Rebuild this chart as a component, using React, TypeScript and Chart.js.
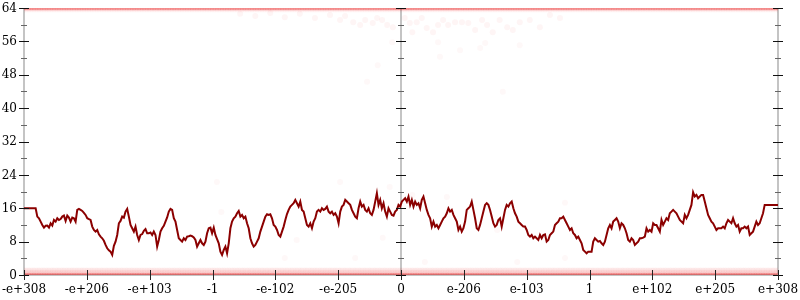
import { useEffect, useRef } from "react";
import { Chart, registerables } from "chart.js";

Chart.register(...registerables);

// x axis: 13 evenly spaced positions (-6 .. 6) labelled with magnitudes
const xTickLabels = [
  "-e+308", "-e+206", "-e+103", "-1", "-e-102", "-e-205", "0",
  "e-206", "e-103", "1", "e+102", "e+205", "e+308",
];
const yTickValues = [0, 8, 16, 24, 32, 40, 48, 56, 64];

// moving average of bit count, sampled evenly from left to right
const avgBits = [
  // segment 1 (-6 .. -3)
  16, 16, 16, 16, 16, 16, 16, 16, 14.0, 13.6, 12.8, 12.0, 11.36, 11.8, 11.84, 11.36, 12.4, 11.84, 13.2, 12.8,
  13.6, 13.2, 13.4, 14.0, 14.24, 12.96, 14.24, 13.76, 12.8, 13.76, 13.6, 12.8, 15.6, 15.84, 15.6, 15.36, 14.9, 14.4, 13.6, 13.4,
  13.2, 11.6, 10.8, 10.4, 10.8, 9.76, 9.2, 8.8, 8.2, 7.2, 6.4, 5.9, 5.6, 4.8, 7.0, 8.0, 9.6, 12.4, 12.96, 14.0,
  13.76, 15.2, 15.84, 14.0, 12.0, 11.2, 10.4, 11.6, 9.6, 8.4, 9.6, 9.8, 10.6, 11.0, 10.0, 10.0, 10.2, 9.6, 10.4, 9.6,
  6.8, 8.4, 10.4, 11.2, 11.8, 12.8, 13.8, 15.2, 15.84, 15.6, 13.6, 12.8, 10.8, 8.8, 8.4, 8.0, 8.8, 8.4, 9.2, 9.3,
  9.44, 9.3, 9.0, 8.4, 6.8, 7.6, 8.4, 7.6, 7.2, 8.0, 10.0, 11.2, 11.36,
  // segment 2 (-3 .. 0)
  10.0, 11.36, 9.6, 8.6, 7.6, 5.6, 4.8, 6.0, 6.8, 5.2, 7.6, 11.2, 12.8, 13.6, 14.0, 14.8, 15.36, 14.0, 14.4, 13.6,
  14.0, 12.4, 11.2, 8.8, 7.6, 6.8, 7.2, 8.0, 8.8, 10.4, 11.6, 12.8, 14.0, 14.56, 14.4, 14.56, 13.6, 12.0, 11.6, 10.8,
  9.6, 9.2, 10.4, 11.6, 13.2, 14.6, 15.6, 16.4, 16.8, 17.2, 18.0, 17.2, 16.4, 17.6, 15.6, 15.2, 13.6, 12.0, 11.6, 12.4,
  11.2, 12.8, 13.6, 15.2, 15.6, 15.2, 16.0, 15.6, 15.84, 16.4, 15.2, 14.8, 15.2, 14.4, 14.8, 14.0, 12.4, 15.2, 16.4, 16.8,
  18.0, 17.6, 17.2, 16.8, 15.6, 14.8, 14.0, 13.6, 16.0, 17.6, 16.4, 16.8, 15.6, 15.2, 16.0, 14.8, 14.4, 15.6, 17.6, 19.6,
  16.8, 18.0, 16.0, 17.2, 15.2, 14.0, 16.0, 15.2, 14.4, 14.24, 15.2, 15.6, 16.8, 16.4,
  // segment 3 (0 .. 3)
  17.6, 18.0, 18.4, 17.6, 18.8, 16.8, 18.0, 16.4, 17.6, 16.8, 17.2, 16.0, 18.0, 18.8, 17.2, 15.6, 14.4, 13.6, 11.6, 12.8,
  11.6, 12.0, 11.2, 12.0, 12.8, 13.6, 14.0, 14.8, 16.0, 15.2, 15.6, 14.4, 13.6, 12.8, 10.8, 11.6, 10.4, 11.2, 12.8, 15.6,
  16.0, 16.4, 17.6, 15.6, 13.6, 11.2, 10.8, 12.0, 13.6, 15.2, 16.8, 17.2, 16.8, 15.6, 14.0, 12.4, 11.6, 12.0, 13.2, 13.6,
  11.6, 13.6, 15.6, 16.8, 16.4, 17.2, 17.6, 16.0, 14.8, 14.0, 12.8, 12.4, 12.0, 11.6, 11.6, 10.8, 9.6, 9.2, 9.6, 8.8,
  9.2, 8.8, 8.4, 9.6, 8.8, 9.6, 9.76, 8.0, 8.4, 9.6, 10.0, 10.4, 12.0, 12.4, 12.8, 13.6, 13.6, 14.0, 13.2, 12.4,
  11.6, 10.8, 11.2, 10.0, 9.6, 8.8, 9.2, 8.4, 7.6, 6.0, 5.6, 5.2, 5.6, 5.6,
  // segment 4 (3 .. 6)
  5.6, 8.0, 8.8, 8.4, 8.0, 8.16, 7.6, 7.2, 8.0, 9.6, 11.2, 12.0, 11.2, 12.8, 13.2, 13.6, 12.8, 11.2, 12.4, 12.0,
  11.2, 10.0, 8.4, 8.0, 8.8, 8.4, 7.2, 7.6, 8.0, 8.8, 8.8, 8.96, 9.2, 11.2, 10.4, 10.8, 10.4, 12.4, 12.0, 12.0,
  11.2, 10.4, 13.2, 12.0, 12.8, 13.6, 13.2, 14.8, 15.2, 15.6, 15.2, 14.8, 14.0, 13.2, 12.8, 12.4, 14.4, 13.6, 14.4, 15.6,
  16.8, 19.84, 18.8, 19.2, 18.4, 18.8, 19.2, 19.2, 17.6, 16.0, 14.4, 13.6, 12.8, 12.4, 11.6, 10.8, 11.2, 11.2, 11.2, 11.6,
  11.2, 12.4, 13.2, 12.8, 12.4, 13.6, 12.4, 11.6, 12.0, 10.4, 11.2, 11.2, 11.6, 11.2, 11.6, 9.6, 10.0, 10.4, 11.6, 12.8,
  12.0, 12.4, 13.6, 14.8, 16.8, 16.8, 16.8, 16.8, 16.8, 16.8, 16.8, 16.8, 16.8,
];

// dense rows of individual values at the floor and ceiling
const floorLevels = [0, 0.6, 1.2];
const ceilLevels = [64, 63.5];

// cluster of high values near the middle
const clusterX = [
  -2.56, -2.32, -2.08, -1.85, -1.61, -1.37, -1.13, -0.97, -0.89, -0.76, -0.65, -0.57, -0.45, -0.38, -0.30, -0.22, -0.13,
  0.06, 0.14, 0.18, 0.25, 0.33, 0.41, 0.51, 0.59, 0.67, 0.75, 0.86, 0.97, 1.07, 1.18, 1.29, 1.37, 1.46, 1.57, 1.69,
  1.78, 1.89, 2.05, 2.21, 2.37, 2.53,
];
const clusterY = [
  62.6, 62.1, 62.8, 61.8, 62.6, 61.6, 62.3, 61.1, 62.1, 60.6, 59.9, 61.1, 60.4, 61.6, 61.1, 59.9, 59.4,
  61.6, 60.4, 58.2, 60.6, 61.6, 59.2, 58.2, 59.9, 61.1, 59.9, 60.6, 60.6, 60.4, 58.7, 61.1, 59.9, 58.2, 61.1, 59.4,
  58.7, 60.6, 61.1, 59.4, 62.3, 61.6,
];

// isolated values
const sparseX = [
  -0.14, 0.59, 0.94, 1.34, 1.89, 1.26, 0.62, -0.37, -0.54, 1.62, -2.86, -1.66, -1.85, -0.73, -0.29, -2.93, -0.97,
  -0.18, 0.73, 0.38, 0.18, 1.53, 1.85, 2.61, 2.61,
];
const sparseY = [
  55.8, 55.8, 53.9, 55.6, 55.1, 54.4, 52.3, 50.3, 46.3, 43.9, 15.1, 8.4, 4.1, 4.1, 8.9, 22.3, 22.3,
  21.1, 18.7, 3.1, 19.2, 10.8, 3.1, 4.1, 17.3,
];

const FONT = '12px "DejaVu Serif", serif';

const axesPlugin = {
  id: "gnuAxes",
  beforeDatasetsDraw(chart: any) {
    const { ctx, chartArea, scales } = chart;
    const { top, bottom, left, right } = chartArea;
    const x = scales.x;
    ctx.save();
    ctx.strokeStyle = "#c4c4c4";
    ctx.lineWidth = 2;
    for (const v of [-6, 0, 6]) {
      const px = Math.round(x.getPixelForValue(v));
      ctx.beginPath();
      ctx.moveTo(px, top);
      ctx.lineTo(px, bottom);
      ctx.stroke();
    }
    ctx.beginPath();
    ctx.moveTo(left, bottom);
    ctx.lineTo(right, bottom);
    ctx.stroke();
    ctx.restore();
  },
  afterDatasetsDraw(chart: any) {
    const { ctx, chartArea, scales } = chart;
    const { bottom, left } = chartArea;
    const x = scales.x;
    const y = scales.y;
    ctx.save();
    for (const av of [-6, 0, 6]) {
      const px = Math.round(x.getPixelForValue(av));
      for (let v = 0; v <= 64; v += 4) {
        const py = Math.round(y.getPixelForValue(v)) + 0.5;
        const major = v % 8 === 0;
        ctx.strokeStyle = major ? "#111" : "#666";
        ctx.lineWidth = 1;
        const len = major ? 5 : 3;
        ctx.beginPath();
        ctx.moveTo(px - len, py);
        ctx.lineTo(px + len, py);
        ctx.stroke();
      }
    }
    ctx.strokeStyle = "#222";
    ctx.lineWidth = 1;
    xTickLabels.forEach((_, i) => {
      const px = Math.round(x.getPixelForValue(i - 6)) + 0.5;
      ctx.beginPath();
      ctx.moveTo(px, bottom - 5);
      ctx.lineTo(px, bottom + 5);
      ctx.stroke();
    });
    ctx.fillStyle = "#000";
    ctx.font = FONT;
    ctx.textAlign = "right";
    ctx.textBaseline = "middle";
    yTickValues.forEach((v) => {
      ctx.fillText(String(v), left - 7, y.getPixelForValue(v) + 0.5);
    });
    ctx.textAlign = "center";
    xTickLabels.forEach((lab, i) => {
      ctx.fillText(lab, x.getPixelForValue(i - 6), bottom + 15);
    });
    ctx.restore();
  },
};

export default function App() {
  const ref = useRef<HTMLCanvasElement | null>(null);

  useEffect(() => {
    document.body.style.margin = "0";
    const canvas = ref.current;
    if (!canvas) return;

    const sampleX = avgBits.map((_, i) => -6 + (12 * i) / (avgBits.length - 1));
    const row = (level: number) => sampleX.map((xv) => ({ x: xv, y: level }));
    const dots = (data: any[], color: string, r: number) => ({
      data,
      backgroundColor: color,
      borderWidth: 0,
      pointRadius: r,
      clip: 0,
    });

    const chart = new Chart(canvas, {
      type: "scatter",
      data: {
        datasets: [
          {
            type: "line",
            data: avgBits.map((v, i) => ({ x: sampleX[i], y: v })),
            borderColor: "#8b0000",
            borderWidth: 2,
            pointRadius: 0,
            tension: 0,
            fill: false,
          } as any,
          dots(row(floorLevels[0]), "rgba(228,30,30,0.2)", 2.5),
          dots(row(floorLevels[1]), "rgba(240,60,60,0.05)", 2.5),
          dots(row(floorLevels[2]), "rgba(240,60,60,0.05)", 2.5),
          dots(row(ceilLevels[0]), "rgba(228,30,30,0.2)", 2.5),
          dots(row(ceilLevels[1]), "rgba(240,60,60,0.03)", 2.5),
          dots(clusterX.map((xv, i) => ({ x: xv, y: clusterY[i] })), "rgba(240,60,60,0.05)", 3),
          dots(sparseX.map((xv, i) => ({ x: xv, y: sparseY[i] })), "rgba(240,60,60,0.035)", 3),
        ],
      },
      options: {
        animation: false,
        responsive: false,
        devicePixelRatio: 1,
        events: [],
        layout: { padding: { left: 24, right: 22, top: 8, bottom: 25 } },
        scales: {
          x: { type: "linear", min: -6, max: 6, display: false },
          y: { type: "linear", min: 0, max: 64, display: false },
        },
        plugins: { legend: { display: false }, tooltip: { enabled: false } },
      },
      plugins: [axesPlugin],
    });
    return () => chart.destroy();
  }, []);

  return (
    <div style={{ width: 800, height: 300 }}>
      <canvas ref={ref} width={800} height={300} />
    </div>
  );
}
